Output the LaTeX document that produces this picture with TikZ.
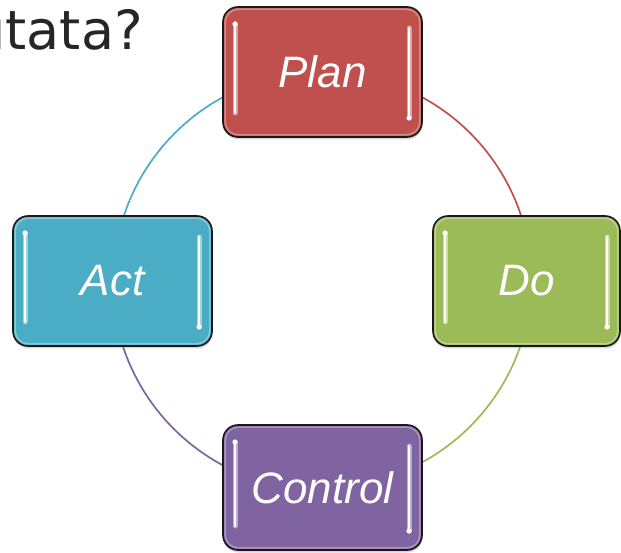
\documentclass[tikz,border=0pt]{standalone}
\usepackage{fontspec}
\newfontfamily\boxfont{Liberation Sans}
\newfontfamily\titlefont{DejaVu Sans}
\usetikzlibrary{shadows,backgrounds,calc}
\definecolor{pdred}{HTML}{C0504D}
\definecolor{pdgreen}{HTML}{9BBB59}
\definecolor{pdpurple}{HTML}{8064A2}
\definecolor{pdblue}{HTML}{4BACC6}
\definecolor{titlegray}{HTML}{262626}
\tikzset{
  phase/.style={draw=black!90, line width=1.6pt, rounded corners=15pt,
    fill=#1, inner sep=0pt, outer sep=0pt, minimum width=199pt, minimum height=130pt,
    drop shadow={opacity=0.3, shadow xshift=0.5pt, shadow yshift=-2.5pt}},
  phaselabel/.style={text=white, inner sep=0pt, font={\boxfont\itshape\fontsize{44}{52}\selectfont}},
  ring/.style={line width=1.7pt, draw=#1}
}
\newcommand\glosshl[2]{%
  \draw[#2!45!white, line width=1.5pt, opacity=0.6, rounded corners=13pt]
    ([xshift=2.2pt,yshift=2.2pt]#1.south west) rectangle ([xshift=-2.2pt,yshift=-2.2pt]#1.north east);
  \draw[#2!40!white, line width=5pt, line cap=round, opacity=0.8]
    ([xshift=12pt,yshift=-17pt]#1.north west) -- ([xshift=12pt,yshift=24pt]#1.south west);
  \draw[white, line width=2pt, line cap=round]
    ([xshift=12pt,yshift=-17pt]#1.north west) -- ([xshift=12pt,yshift=24pt]#1.south west);
  \fill[white] ([xshift=12pt,yshift=-17pt]#1.north west) circle (2.6pt);
  \draw[#2!40!white, line width=5pt, line cap=round, opacity=0.8]
    ([xshift=-13pt,yshift=-21pt]#1.north east) -- ([xshift=-13pt,yshift=19pt]#1.south east);
  \draw[white, line width=2pt, line cap=round]
    ([xshift=-13pt,yshift=-21pt]#1.north east) -- ([xshift=-13pt,yshift=19pt]#1.south east);
  \fill[white] ([xshift=-13pt,yshift=19pt]#1.south east) circle (2.6pt);
}
\begin{document}
\begin{tikzpicture}[x=1pt,y=1pt]
\useasboundingbox (0,0) rectangle (621,552);
\clip (0,0) rectangle (621,552);
\node[anchor=base east, text=titlegray, inner sep=0pt,
  font={\titlefont\fontsize{54}{60}\selectfont}] (title) at (143,502) {utata?};
\node[phase=pdred] (plan) at (322.5,480) {};
\node[phase=pdgreen, minimum width=187pt] (do) at (526.5,271) {};
\node[phase=pdpurple, minimum height=125pt] (control) at (322.5,64.5) {};
\node[phase=pdblue] (act) at (112.5,271) {};
\glosshl{plan}{pdred}
\glosshl{do}{pdgreen}
\glosshl{control}{pdpurple}
\glosshl{act}{pdblue}
\node[phaselabel] (plantext) at (plan) {Plan};
\node[phaselabel] (dotext) at (do) {Do};
\node[phaselabel] (controltext) at (control) {Control};
\node[phaselabel] (acttext) at (act) {Act};
\begin{scope}[on background layer]
  \fill[white] (0,0) rectangle (621,552);
  \draw[ring=pdred] (plan.center) arc[start angle=90, end angle=0, radius=209];
  \draw[ring=pdblue] (plan.center) arc[start angle=90, end angle=180, radius=209];
  \draw[ring=pdpurple] (act.center) arc[start angle=180, end angle=270, radius=209];
  \draw[ring=pdgreen] (control.center) arc[start angle=270, end angle=360, radius=209];
\end{scope}
\end{tikzpicture}
\end{document}
